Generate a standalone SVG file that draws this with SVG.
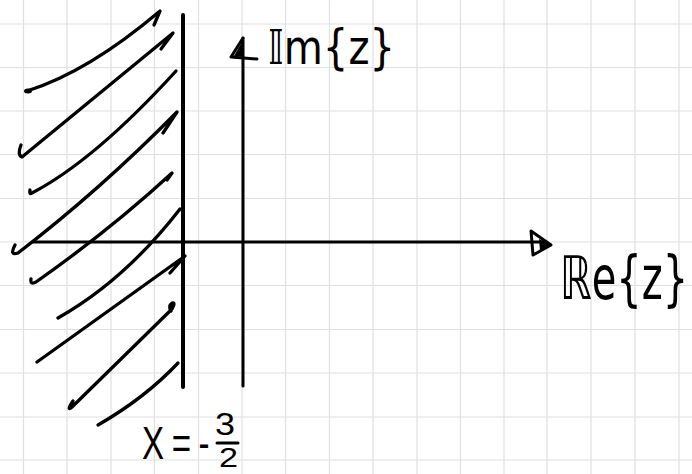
<svg xmlns="http://www.w3.org/2000/svg" width="692" height="474" viewBox="0 0 692 474">
<style>
.grid{stroke:#e0e0e0;stroke-width:1.2;fill:none}
.ink{stroke:#000;fill:none;stroke-linecap:round;stroke-linejoin:round}
.hatch{stroke-width:3.3}
.lbl{font-family:"DejaVu Sans","Liberation Sans",sans-serif;fill:#000}
.eq{font-family:"Liberation Sans",Arial,sans-serif;fill:#000}
</style>
<rect width="692" height="474" fill="#fff"/>
<g id="grid">
<path class="grid" d="M23.5,0V474M67,0V474M111,0V474M154.5,0V474M198.5,0V474M242,0V474M285.5,0V474M329.5,0V474M373,0V474M417,0V474M460.5,0V474M504,0V474M547,0V474M591,0V474M635,0V474M679,0V474M0,24H692M0,67.5H692M0,111H692M0,154.5H692M0,198.5H692M0,242H692M0,285.5H692M0,329.5H692M0,373H692M0,417H692M0,460H692"/>
</g>
<g id="hatching">
<ellipse cx="28" cy="91" rx="4" ry="2.5" fill="#000"/>
<path class="ink hatch" d="M27,91 Q88,72 160,11 L154,25"/>
<path class="ink hatch" d="M21,145 Q17,155 22,157 L173,33 L161,49"/>
<path class="ink hatch" d="M30,190 Q29,195 32,193 Q95,160 176,71"/>
<path class="ink hatch" d="M15,245 Q9,256 18,253 Q100,190 177,112 L163,133"/>
<path class="ink hatch" d="M31,279 Q30,285 36,282 Q110,230 172,173 L167,180"/>
<path class="ink hatch" d="M58,318 Q125,280 180,209"/>
<path class="ink hatch" d="M37,362 L185,256 L170,273"/>
<path class="ink hatch" d="M73,401 Q66,412 72,407 L172,309 Q176,302 172,303 Q168,306 171,311"/>
<path class="ink hatch" d="M98,425 Q145,398 178,363"/>
</g>
<g id="connectors">
<path class="ink" stroke-width="4" d="M183,15 V387"/>
<path class="ink" stroke-width="3" d="M243,386 V38"/>
<path class="ink" stroke-width="3" d="M243,38 L231,57 L257,59"/>
<path d="M243,40 L234,56 L243,57 Z" fill="#000"/>
<path class="ink" stroke-width="3" d="M33,242 H545"/>
<path class="ink" stroke-width="3" d="M531,231 L551,245 L533,255 Z"/>
<path d="M539,239 L550,245 L540,251 Z" fill="#000"/>
</g>
<g id="labels">
<text class="lbl" x="268" y="64" font-size="48" textLength="127" lengthAdjust="spacingAndGlyphs">𝕀m{z}</text>
<text class="lbl" transform="translate(560,299) scale(1,1.5)" x="0" y="0" font-size="40">ℝe{z}</text>
<text class="eq" transform="translate(142,459) scale(0.72,1)" x="0" y="0" font-size="46" letter-spacing="10.5">X=-</text>
<text class="eq"><tspan x="215" y="435" font-size="32" textLength="20" lengthAdjust="spacingAndGlyphs">3</tspan><tspan x="219" y="467" font-size="28" textLength="19" lengthAdjust="spacingAndGlyphs">2</tspan></text>
<path class="ink" stroke-width="3" d="M217,443 H238"/>
</g>
</svg>
